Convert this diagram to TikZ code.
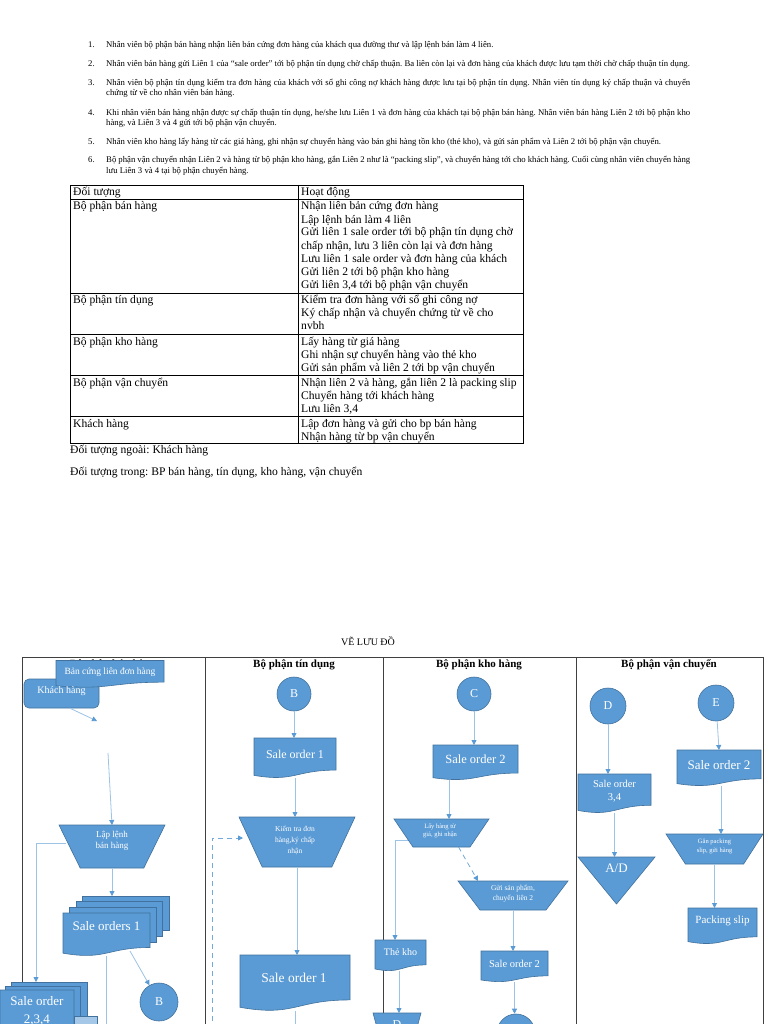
\documentclass[tikz,border=0pt]{standalone}
\usepackage{fontspec}
\setmainfont{Liberation Serif}
\usetikzlibrary{calc,arrows.meta}
\definecolor{fc}{HTML}{5B9BD5}
\definecolor{fcedge}{HTML}{41719C}
\definecolor{arrline}{HTML}{9DC3E6}
\definecolor{framec}{HTML}{404040}
\pgfdeclarelayer{frame}\pgfdeclarelayer{shapes}
\pgfsetlayers{frame,shapes,main}
\frenchspacing
\newcommand\FS[2]{\fontsize{#1}{#2}\selectfont}
\tikzset{
 shp/.style={fill=fc, draw=fcedge, line width=0.6pt},
 anc/.style={rectangle, draw=none, inner sep=0pt, outer sep=0pt},
 wt/.style={text=white, align=center, inner sep=0pt},
 circ/.style={circle, fill=fc, draw=fcedge, line width=0.6pt, text=white, inner sep=0pt, font=\FS{12}{14}},
 arr/.style={draw=arrline, line width=0.8pt, -{Triangle[length=5pt,width=5pt,color=fc]}},
 plainln/.style={draw=arrline, line width=0.8pt},
 dasharr/.style={draw=fc!85, line width=0.8pt, dash pattern=on 5pt off 4pt, -{Triangle[length=5pt,width=5pt,color=fc]}},
 tcell/.style={inner sep=0pt, anchor=base west, font=\FS{11.6}{13}},
 ltext/.style={inner sep=0pt, anchor=base west, font=\FS{8.7}{10}},
 hdr/.style={font=\bfseries\FS{11}{13}, inner sep=0pt},
 gridln/.style={draw=black, line width=0.8pt},
 framel/.style={draw=framec, line width=0.9pt},
}
\newcommand\DrawDoc[1]{\path[shp] (#1.north west) -- (#1.north east) -- ($(#1.north east)!0.802!(#1.south east)$) .. controls ($(#1.north)!0.802!(#1.south)$) and ($(#1.north)!1.107!(#1.south)$) .. ($(#1.north west)!0.934!(#1.south west)$) -- cycle;}
\newcommand\DrawMan[1]{\path[shp] (#1.north west) -- (#1.north east) -- ($(#1.south east)!0.2!(#1.south west)$) -- ($(#1.south west)!0.2!(#1.south east)$) -- cycle;}
\newcommand\DrawTri[1]{\path[shp] (#1.north west) -- (#1.north east) -- (#1.south) -- cycle;}
\newcommand\DrawRect[1]{\path[shp] (#1.north west) rectangle (#1.south east);}
\newcommand\CellLines[4]{\foreach \s [count=\i] in {#4} \node[tcell] (#3-\i) at (#1,{#2+13*(\i-1)}) {\s};}
\begin{document}
\begin{tikzpicture}[x=1pt,y=-1pt]
\useasboundingbox (0,0) rectangle (768,1024);
\begin{pgfonlayer}{frame}
\fill[white] (0,0) rectangle (768,1024);
\end{pgfonlayer}

% ---------- numbered list ----------
\node[ltext] (n1) at (88,47.5) {1.};
\node[ltext] (n2) at (88,66.5) {2.};
\node[ltext] (n3) at (88,85.5) {3.};
\node[ltext] (n4) at (88,115.5) {4.};
\node[ltext] (n5) at (88,144.5) {5.};
\node[ltext] (n6) at (88,163) {6.};
\node[ltext] (l1) at (106,47.5) {Nhân viên bộ phận bán hàng nhận liên bản cứng đơn hàng của khách qua đường thư và lập lệnh bán làm 4 liên.};
\node[ltext] (l2) at (106,66.5) {Nhân viên bán hàng gửi Liên 1 của “sale order” tới bộ phận tín dụng chờ chấp thuận. Ba liên còn lại và đơn hàng của khách được lưu tạm thời chờ chấp thuận tín dụng.};
\node[ltext] (l3a) at (106,85.5) {\makebox[584pt][s]{Nhân viên bộ phận tín dụng kiểm tra đơn hàng của khách với sổ ghi công nợ khách hàng được lưu tại bộ phận tín dụng. Nhân viên tín dụng ký chấp thuận và chuyển}};
\node[ltext] (l3b) at (106,95.5) {chứng từ về cho nhân viên bán hàng.};
\node[ltext] (l4a) at (106,115.5) {\makebox[584pt][s]{Khi nhân viên bán hàng nhận được sự chấp thuận tín dụng, he/she lưu Liên 1 và đơn hàng của khách tại bộ phận bán hàng. Nhân viên bán hàng Liên 2 tới bộ phận kho}};
\node[ltext] (l4b) at (106,125.5) {hàng, và Liên 3 và 4 gửi tới bộ phận vận chuyển.};
\node[ltext] (l5) at (106,144.5) {Nhân viên kho hàng lấy hàng từ các giá hàng, ghi nhận sự chuyển hàng vào bản ghi hàng tồn kho (thẻ kho), và gửi sản phẩm và Liên 2 tới bộ phận vận chuyển.};
\node[ltext] (l6a) at (106,163) {\makebox[584pt][s]{Bộ phận vận chuyển nhận Liên 2 và hàng từ bộ phận kho hàng, gắn Liên 2 như là “packing slip”, và chuyển hàng tới cho khách hàng. Cuối cùng nhân viên chuyển hàng}};
\node[ltext] (l6b) at (106,173.5) {lưu Liên 3 và 4 tại bộ phận chuyển hàng.};

% ---------- table ----------
\draw[gridln] (70,185) rectangle (523,443);
\draw[gridln] (298,185) -- (298,443);
\foreach \yy in {199,293,334,375,416} \draw[gridln] (70,\yy) -- (523,\yy);
\node[tcell] (h1) at (73,196) {Đối tượng};
\node[tcell] (h2) at (301,196) {Hoạt động};
\node[tcell] (c1) at (73,210) {Bộ phận bán hàng};
\CellLines{301}{210}{r1}{Nhận liên bản cứng đơn hàng,Lập lệnh bán làm 4 liên,Gửi liên 1 sale order tới bộ phận tín dụng chờ,{chấp nhận, lưu 3 liên còn lại và đơn hàng},Lưu liên 1 sale order và đơn hàng của khách,Gửi liên 2 tới bộ phận kho hàng,{Gửi liên 3,4 tới bộ phận vận chuyển}}
\node[tcell] (c2) at (73,303) {Bộ phận tín dụng};
\CellLines{301}{303}{r2}{Kiểm tra đơn hàng với sổ ghi công nợ,Ký chấp nhận và chuyển chứng từ về cho,nvbh}
\node[tcell] (c3) at (73,345) {Bộ phận kho hàng};
\CellLines{301}{345}{r3}{Lấy hàng từ giá hàng,Ghi nhận sự chuyển hàng vào thẻ kho,Gửi sản phẩm và liên 2 tới bp vận chuyển}
\node[tcell] (c4) at (73,386) {Bộ phận vận chuyển};
\CellLines{301}{386}{r4}{{Nhận liên 2 và hàng, gắn liên 2 là packing slip},Chuyển hàng tới khách hàng,{Lưu liên 3,4}}
\node[tcell] (c5) at (73,427) {Khách hàng};
\CellLines{301}{427}{r5}{Lập đơn hàng và gửi cho bp bán hàng,Nhận hàng từ bp vận chuyển}
\node[tcell] (ngoai) at (70,453) {Đối tượng ngoài: Khách hàng};
\node[tcell] (trong) at (70,475) {Đối tượng trong: BP bán hàng, tín dụng, kho hàng, vận chuyển};

% ---------- flowchart frame ----------
\node[font=\FS{10}{12}, inner sep=0pt] (title) at (368,641) {VẼ LƯU ĐỒ};
\begin{pgfonlayer}{frame}
\draw[framel] (22,1030) -- (22,657) -- (763,657) -- (763,1030);
\foreach \xx in {205,383,576} \draw[framel] (\xx,657) -- (\xx,1030);
\node[hdr] (hd1) at (113,665) {Bộ phận bán hàng};
\node[hdr] (hd2) at (294,665) {Bộ phận tín dụng};
\node[hdr] (hd3) at (479,665) {Bộ phận kho hàng};
\node[hdr] (hd4) at (669,665) {Bộ phận vận chuyển};
\end{pgfonlayer}

% ---------- lane 1 ----------
\node[anc, minimum width=75pt, minimum height=29pt] (khach) at (61.5,693.5) {};
\node[anc, minimum width=108pt, minimum height=27pt] (bancung) at (110,674) {};
\node[wt, font=\FS{9.5}{11}] (bancung-t) at (110,672) {Bản cứng liên đơn hàng};
\node[wt, font=\FS{10}{12}] (khach-t) at (61.5,691) {Khách hàng};
\coordinate (khachend) at (97,721);
\draw[arr] ([xshift=8]khach.south) -- (khachend);
\coordinate (lapin) at (108,753);
\node[anc, minimum width=106pt, minimum height=43pt] (lap) at (112,846.5) {};
\node[wt, font=\FS{9}{11}] (lap-t) at (112,841) {Lập lệnh\\bán hàng};
\draw[arr] (lapin) -- (lap.north);
\node[anc, minimum width=87pt, minimum height=34pt] (so1b3) at (125.5,913) {};
\node[anc, minimum width=86pt, minimum height=35pt] (so1b2) at (119,918.5) {};
\node[anc, minimum width=87pt, minimum height=35pt] (so1b1) at (112.5,924.5) {};
\node[anc, minimum width=87pt, minimum height=43pt] (so1) at (106.5,934.5) {};
\node[wt, font=\FS{13}{15}] (so1-t) at (106.5,926) {Sale orders 1};
\draw[arr] (lap.south) -- (lap.south |- so1b3.north);
\coordinate (lapL) at (66,843);
\coordinate (so234top) at (36,982);
\draw[arr] (lapL) -| (so234top);
\node[anc, minimum width=76pt, minimum height=35pt] (so234b2) at (49,999.5) {};
\node[anc, minimum width=75pt, minimum height=34pt] (so234b1) at (42.5,1003) {};
\node[anc, minimum width=74pt, minimum height=50pt] (so234) at (37,1015) {};
\node[wt, font=\FS{13}{18}] (so234-t) at (37,1011) {Sale order\\2,3,4};
\node[anc, minimum width=23pt, minimum height=20pt, fill=fc!55, draw=fcedge, line width=0.6pt] (so234x) at (85.5,1026) {};
\draw[plainln] (so1.south) -- ++(0,80);
\node[circ, minimum size=38pt] (B1) at (159,1002) {B};
\coordinate (so1out) at (130,951);
\draw[arr] (so1out) -- (B1);

% ---------- lane 2 ----------
\node[circ, minimum size=34pt] (B2) at (294,694) {B};
\node[anc, minimum width=82pt, minimum height=40pt] (so1a) at (295,758) {};
\node[wt, font=\FS{12}{14}] (so1a-t) at (295,754) {Sale order 1};
\draw[arr] (B2) -- (B2 |- so1a.north);
\node[anc, minimum width=116pt, minimum height=50pt] (kiem) at (297,842) {};
\node[wt, font=\FS{7.5}{11}] (kiem-t) at (295,840) {Kiểm tra đơn\\hàng,ký chấp\\nhận};
\draw[arr] (so1a.south) -- (so1a.south |- kiem.north);
\coordinate (dash0) at (212,1030);
\coordinate (kiemL) at (243,838);
\draw[dasharr] (dash0) |- (kiemL);
\node[anc, minimum width=110pt, minimum height=56pt] (so1b) at (295,983) {};
\node[wt, font=\FS{13.5}{16}] (so1b-t) at (294,978) {Sale order 1};
\draw[arr] (kiem.south) -- (kiem.south |- so1b.north);
\draw[plainln] (so1b.south) -- ++(0,30);

% ---------- lane 3 ----------
\node[circ, minimum size=34pt] (C) at (474,694) {C};
\node[anc, minimum width=85pt, minimum height=35pt] (so2a) at (475.5,762.5) {};
\node[wt, font=\FS{12.5}{15}] (so2a-t) at (475.5,759) {Sale order 2};
\draw[arr] (C) -- (C |- so2a.north);
\node[anc, minimum width=95pt, minimum height=28pt] (lay) at (441.5,833) {};
\node[wt, font=\FS{6.5}{8.5}] (lay-t) at (440,831) {Lấy hàng từ\\giá, ghi nhận};
\draw[arr] ([xshift=-26.5]so2a.south) -- ([xshift=-26.5]so2a.south |- lay.north);
\node[anc, minimum width=51pt, minimum height=31pt] (thekho) at (400.5,955.5) {};
\node[wt, font=\FS{10}{12}] (thekho-t) at (400.5,952) {Thẻ kho};
\coordinate (layL) at (408,840);
\draw[arr] (layL) -| ([xshift=-5.5]thekho.north);
\node[anc, minimum width=110pt, minimum height=29pt] (gui) at (513,895.5) {};
\node[wt, font=\FS{7.5}{10}] (gui-t) at (513,893.5) {Gửi sản phẩm,\\chuyển liên 2};
\draw[dasharr] ([xshift=17]lay.south) -- ([xshift=20]gui.north west);
\node[anc, minimum width=67pt, minimum height=31pt] (so2b) at (514.5,966.5) {};
\node[wt, font=\FS{10.5}{12}] (so2b-t) at (514.5,964) {Sale order 2};
\draw[arr] (gui.south) -- (gui.south |- so2b.north);
\node[circ, minimum size=38pt] (Ebot) at (516,1033) {};
\draw[arr] (so2b.south) -- (so2b.south |- Ebot.north);
\node[anc, minimum width=48pt, minimum height=35pt] (Dbot) at (397,1030.5) {};
\node[wt, font=\FS{12}{14}] (Dbot-t) at (397,1025) {D};
\draw[arr] ([xshift=-1.5]thekho.south) -- ([xshift=-1.5]thekho.south |- Dbot.north);

% ---------- lane 4 ----------
\node[circ, minimum size=36pt] (D) at (608,706) {D};
\node[anc, minimum width=73pt, minimum height=39pt] (so34) at (614.5,793.5) {};
\node[wt, font=\FS{10.5}{13}] (so34-t) at (614.5,791) {Sale order\\3,4};
\draw[arr] (D) -- (D |- so34.north);
\node[anc, minimum width=77pt, minimum height=47pt] (AD) at (616.5,880.5) {};
\node[wt, font=\FS{13}{15}] (AD-t) at (616.5,868) {A/D};
\draw[arr] (so34.south) -- (so34.south |- AD.north);
\node[circ, minimum size=36pt] (E) at (716,703) {E};
\node[anc, minimum width=84pt, minimum height=36pt] (so2c) at (719,768) {};
\node[wt, font=\FS{13}{15}] (so2c-t) at (719,765) {Sale order 2};
\draw[arr] (E) -- (so2c.north);
\node[anc, minimum width=97pt, minimum height=30pt] (gan) at (714.5,849) {};
\node[wt, font=\FS{6.5}{9}] (gan-t) at (714.5,846) {Gắn packing\\slip, gửi hàng};
\draw[arr] ([xshift=2]so2c.south) -- ([xshift=2]so2c.south |- gan.north);
\node[anc, minimum width=69pt, minimum height=36pt] (pack) at (722.5,926) {};
\node[wt, font=\FS{11}{13}] (pack-t) at (722.5,921) {Packing slip};
\draw[arr] (gan.south) -- (gan.south |- pack.north);

% ---------- shapes ----------
\begin{pgfonlayer}{shapes}
\path[shp, rounded corners=5pt] (khach.north west) rectangle (khach.south east);
\DrawDoc{bancung}
\DrawRect{so1b3}\DrawRect{so1b2}\DrawRect{so1b1}
\DrawDoc{so1}
\DrawRect{so234b2}\DrawRect{so234b1}
\DrawDoc{so234}
\DrawMan{lap}
\DrawDoc{so1a}
\DrawMan{kiem}
\DrawDoc{so1b}
\DrawDoc{so2a}
\DrawMan{lay}
\DrawMan{gui}
\DrawDoc{so2b}
\DrawDoc{thekho}
\DrawMan{Dbot}
\DrawDoc{so34}
\DrawTri{AD}
\DrawDoc{so2c}
\DrawMan{gan}
\DrawDoc{pack}
\end{pgfonlayer}
\end{tikzpicture}
\end{document}
